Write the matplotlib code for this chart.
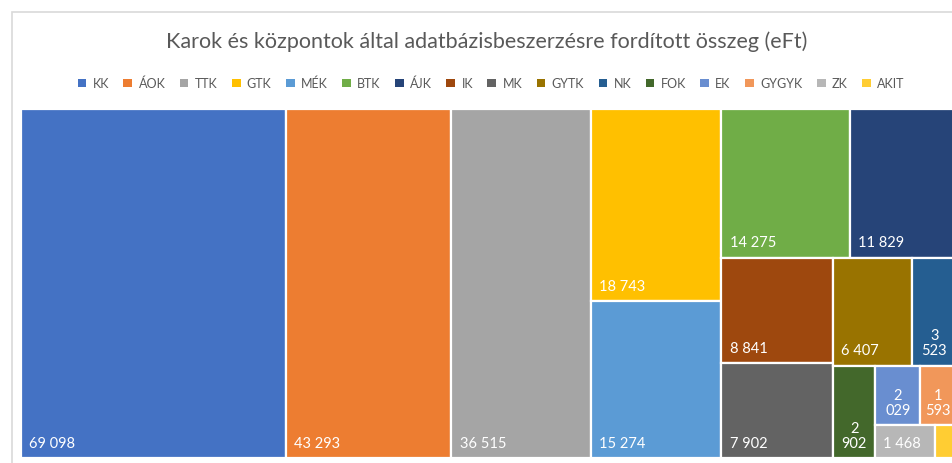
import matplotlib.pyplot as plt
from matplotlib.patches import Rectangle, Patch

plt.rcParams['font.family'] = ['Lato', 'DejaVu Sans']

# data (eFt)
labels = ["KK", "ÁOK", "TTK", "GTK", "MÉK", "BTK", "ÁJK", "IK", "MK",
          "GYTK", "NK", "FOK", "EK", "GYGYK", "ZK", "AKIT"]
values = [69098, 43293, 36515, 18743, 15274, 14275, 11829, 8841, 7902,
          6407, 3523, 2902, 2029, 1593, 1468, 500]
colors = ["#4472C4", "#ED7D31", "#A5A5A5", "#FFC000", "#5B9BD5", "#70AD47",
          "#264478", "#9E480E", "#636363", "#997300", "#255E91", "#43682B",
          "#698ED0", "#F1975A", "#B7B7B7", "#FFCD33"]
# how Excel grouped the boxes into strips
strips = [[0], [1], [2], [3, 4], [5, 6], [7, 8], [9, 10], [11], [12, 13], [14], [15]]

W_PX, H_PX = 953, 464
fig = plt.figure(figsize=(W_PX / 100, H_PX / 100), dpi=100)

# chart border
fig.patches.append(Rectangle((12 / W_PX, -0.1), 1.2, (H_PX - 13) / H_PX + 0.1,
                             transform=fig.transFigure, fill=False,
                             edgecolor="#D9D9D9", linewidth=1.2))

fig.text(487 / W_PX, 1 - 42 / H_PX,
         "Karok és központok által adatbázisbeszerzésre fordított összeg (eFt)",
         ha="center", va="center", fontsize=15.5, color="#595959")

# plot area in pixels (right edge runs past the picture)
x0, x1, y0, y1 = 21, 956, 110, 459
ax = fig.add_axes([x0 / W_PX, 1 - y1 / H_PX, (x1 - x0) / W_PX, (y1 - y0) / H_PX])
total = sum(values)
H = 1.0
W = total / H
ax.set_xlim(0, W)
ax.set_ylim(H, 0)
ax.axis("off")
pxx = (x1 - x0) / W   # pixels per data unit in x
pxy = (y1 - y0) / H


def put_label(i, bx, by, bw, bh):
    # AKIT label falls outside the picture
    if i == 15:
        return
    txt = f"{values[i]:,}".replace(",", " ")
    if bw * pxx < 52:
        ax.annotate(txt.replace(" ", "\n"), (bx + bw / 2, by + bh), xytext=(0, 6),
                    textcoords="offset points", ha="center", va="bottom",
                    multialignment="center", color="white", fontsize=10.5,
                    linespacing=1.1)
    else:
        ax.annotate(txt, (bx, by + bh), xytext=(6, 6), textcoords="offset points",
                    ha="left", va="bottom", color="white", fontsize=10.5)


rx, ry, rw, rh = 0.0, 0.0, W, H
for strip in strips:
    s = sum(values[i] for i in strip)
    if rw * pxx >= rh * pxy:
        # column on the left
        sw = s / rh
        cy = ry
        for i in strip:
            bh = values[i] / sw
            ax.add_patch(Rectangle((rx, cy), sw, bh, facecolor=colors[i],
                                   edgecolor="white", linewidth=1.6))
            put_label(i, rx, cy, sw, bh)
            cy += bh
        rx += sw
        rw -= sw
    else:
        # row on top
        sh = s / rw
        cx = rx
        for i in strip:
            bw = values[i] / sh
            ax.add_patch(Rectangle((cx, ry), bw, sh, facecolor=colors[i],
                                   edgecolor="white", linewidth=1.6))
            put_label(i, cx, ry, bw, sh)
            cx += bw
        ry += sh
        rh -= sh

handles = [Patch(facecolor=c, edgecolor="none") for c in colors]
fig.legend(handles, labels, loc="center", bbox_to_anchor=(491 / W_PX, 1 - 84 / H_PX),
           ncol=16, frameon=False, fontsize=9, labelcolor="#595959",
           handlelength=0.7, handleheight=0.7, handletextpad=0.5, columnspacing=1.15)

fig.savefig("out.png", dpi=100)
